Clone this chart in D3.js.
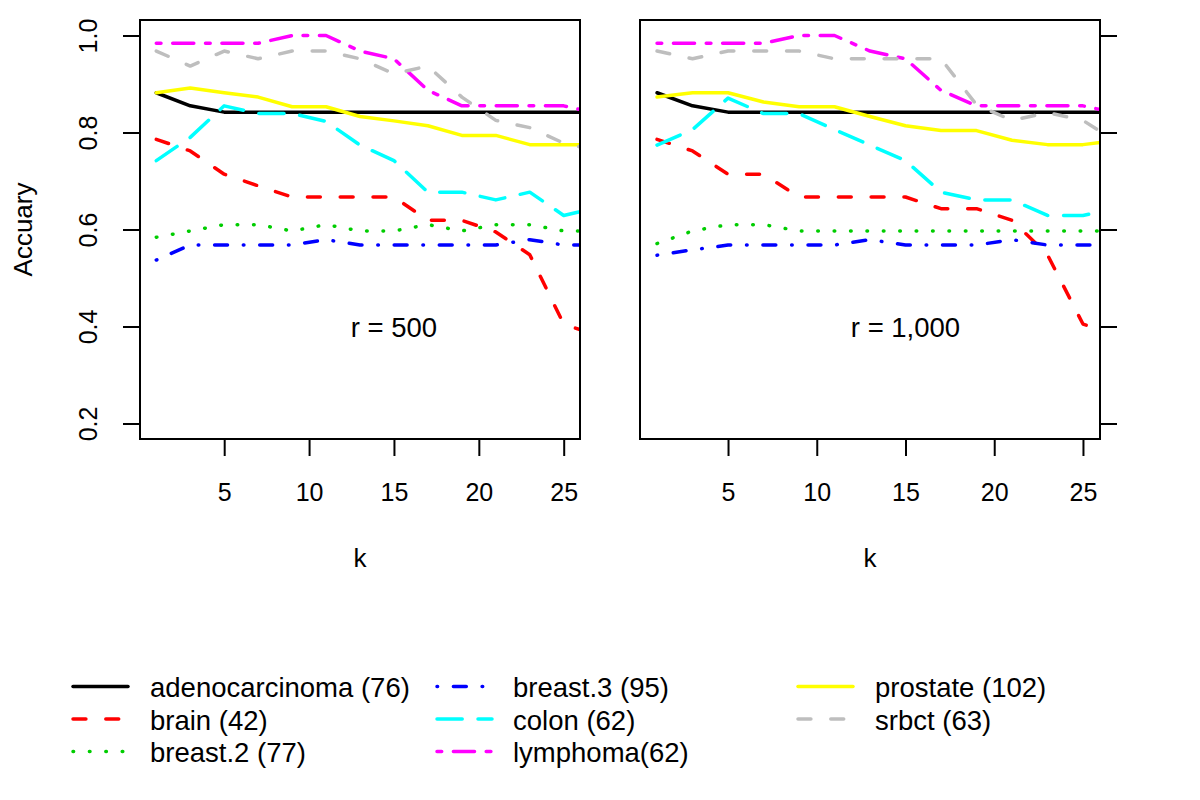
<!DOCTYPE html>
<html><head><meta charset="utf-8">
<script src="https://cdn.jsdelivr.net/npm/d3@7"></script>
<style>
body{margin:0;background:#fff}
svg{display:block}
text{font-family:"Liberation Sans",Arial,Helvetica,sans-serif;fill:#000}
</style>
</head><body>
<svg id="chart" width="1200" height="800"></svg>
<script>
// ---------- data ----------
const kValues = [1, 3, 5, 7, 9, 11, 13, 15, 17, 19, 21, 23, 25, 27];
const seriesNames = ["adenocarcinoma", "brain", "breast.2", "breast.3", "colon", "lymphoma", "prostate", "srbct"];
const legendLabels = ["adenocarcinoma (76)", "brain (42)", "breast.2 (77)", "breast.3 (95)", "colon (62)", "lymphoma(62)", "prostate (102)", "srbct (63)"];
const seriesColors = ["#000000", "#FF0000", "#00CD00", "#0000FF", "#00FFFF", "#FF00FF", "#FFFF00", "#BEBEBE"];
const seriesLty = ["solid", "dashed", "dotted", "dotdash", "longdash", "twodash", "solid", "dashed"];

// r = 500
const r500_adenocarcinoma = [0.882, 0.855, 0.842, 0.842, 0.842, 0.842, 0.842, 0.842, 0.842, 0.842, 0.842, 0.842, 0.842, 0.842];
const r500_brain          = [0.786, 0.762, 0.714, 0.690, 0.667, 0.667, 0.667, 0.667, 0.619, 0.619, 0.595, 0.548, 0.405, 0.381];
const r500_breast2        = [0.584, 0.597, 0.610, 0.610, 0.597, 0.610, 0.597, 0.597, 0.610, 0.597, 0.610, 0.610, 0.597, 0.597];
const r500_breast3        = [0.537, 0.568, 0.568, 0.568, 0.568, 0.579, 0.568, 0.568, 0.568, 0.568, 0.568, 0.579, 0.568, 0.568];
const r500_colon          = [0.742, 0.790, 0.855, 0.839, 0.839, 0.823, 0.774, 0.742, 0.677, 0.677, 0.661, 0.677, 0.629, 0.645];
const r500_lymphoma       = [0.984, 0.984, 0.984, 0.984, 1.000, 1.000, 0.968, 0.952, 0.887, 0.855, 0.855, 0.855, 0.855, 0.839];
const r500_prostate       = [0.882, 0.892, 0.882, 0.873, 0.853, 0.853, 0.833, 0.824, 0.814, 0.794, 0.794, 0.775, 0.775, 0.775];
const r500_srbct          = [0.968, 0.937, 0.968, 0.952, 0.968, 0.968, 0.952, 0.921, 0.937, 0.873, 0.825, 0.810, 0.778, 0.762];

// r = 1,000
const r1000_adenocarcinoma = [0.882, 0.855, 0.842, 0.842, 0.842, 0.842, 0.842, 0.842, 0.842, 0.842, 0.842, 0.842, 0.842, 0.842];
const r1000_brain          = [0.786, 0.762, 0.714, 0.714, 0.667, 0.667, 0.667, 0.667, 0.643, 0.643, 0.619, 0.548, 0.405, 0.381];
const r1000_breast2        = [0.571, 0.597, 0.610, 0.610, 0.597, 0.597, 0.597, 0.597, 0.597, 0.597, 0.597, 0.597, 0.597, 0.597];
const r1000_breast3        = [0.547, 0.558, 0.568, 0.568, 0.568, 0.568, 0.579, 0.568, 0.568, 0.568, 0.579, 0.568, 0.568, 0.568];
const r1000_colon          = [0.774, 0.806, 0.871, 0.839, 0.839, 0.806, 0.774, 0.742, 0.677, 0.661, 0.661, 0.629, 0.629, 0.645];
const r1000_lymphoma       = [0.984, 0.984, 0.984, 0.984, 1.000, 1.000, 0.968, 0.952, 0.887, 0.855, 0.855, 0.855, 0.855, 0.839];
const r1000_prostate       = [0.873, 0.882, 0.882, 0.863, 0.853, 0.853, 0.833, 0.814, 0.804, 0.804, 0.784, 0.775, 0.775, 0.784];
const r1000_srbct          = [0.968, 0.952, 0.968, 0.968, 0.968, 0.952, 0.952, 0.952, 0.952, 0.857, 0.825, 0.841, 0.825, 0.778];

const xTicks = [5, 10, 15, 20, 25];
const yTicks = [0.2, 0.4, 0.6, 0.8, 1.0];
const yTickLabels = ["0.2", "0.4", "0.6", "0.8", "1.0"];
const panelLabels = ["r = 500", "r = 1,000"];
const xTitle = "k";
const yTitle = "Accuary";

// ---------- layout / style ----------
const svg = d3.select("#chart");
const LW = 3.5, U = 4.1;
function dashFor(lty) {
  const on = n => Math.max(0.4, n * U - LW), off = n => n * U + LW;
  switch (lty) {
    case "dashed": return [on(4), off(4)].join(",");
    case "dotted": return [on(1), off(3)].join(",");
    case "dotdash": return [on(1), off(3), on(4), off(3)].join(",");
    case "longdash": return [on(7), off(3)].join(",");
    case "twodash": return [on(2), off(2), on(6), off(2)].join(",");
    default: return null;
  }
}

const panels = [
  { left: 140, right: 580, yAxisSide: "left", label: panelLabels[0],
    series: [r500_adenocarcinoma, r500_brain, r500_breast2, r500_breast3, r500_colon, r500_lymphoma, r500_prostate, r500_srbct] },
  { left: 640, right: 1100, yAxisSide: "right", label: panelLabels[1],
    series: [r1000_adenocarcinoma, r1000_brain, r1000_breast2, r1000_breast3, r1000_colon, r1000_lymphoma, r1000_prostate, r1000_srbct] }
];
const plotTop = 20, plotBottom = 439;

// R-style 4% expansion
function expand(lo, hi) { const d = (hi - lo) * 0.04; return [lo - d, hi + d]; }

panels.forEach((p, pi) => {
  const x = d3.scaleLinear().domain(expand(1, 25)).range([p.left, p.right]);
  const y = d3.scaleLinear().domain(expand(0.2, 1.0)).range([plotBottom, plotTop]);

  const clipId = "clip" + pi;
  svg.append("clipPath").attr("id", clipId).append("rect")
    .attr("x", p.left).attr("y", plotTop).attr("width", p.right - p.left).attr("height", plotBottom - plotTop);

  const line = d3.line().x((d, i) => x(kValues[i])).y(d => y(d));
  const g = svg.append("g").attr("clip-path", `url(#${clipId})`);
  p.series.forEach((vals, si) => {
    g.append("path").datum(vals)
      .attr("d", line)
      .attr("fill", "none")
      .attr("stroke", seriesColors[si])
      .attr("stroke-width", LW)
      .attr("stroke-linecap", "round")
      .attr("stroke-linejoin", "round")
      .attr("stroke-dasharray", dashFor(seriesLty[si]));
  });

  // box
  svg.append("rect").attr("x", p.left).attr("y", plotTop)
    .attr("width", p.right - p.left).attr("height", plotBottom - plotTop)
    .attr("fill", "none").attr("stroke", "#000").attr("stroke-width", 2);

  // x axis
  const xa = svg.append("g").attr("transform", `translate(0,${plotBottom})`)
    .call(d3.axisBottom(x).tickValues(xTicks).tickSize(17).tickFormat(d3.format("d")));
  xa.select(".domain").remove();
  xa.selectAll(".tick line").attr("stroke", "#000").attr("stroke-width", 2);
  xa.selectAll(".tick text").attr("y", 62).attr("dy", null)
    .attr("font-size", 25).attr("fill", "#000")
    .style("font-family", '"Liberation Sans",Arial,sans-serif');

  // y axis
  if (p.yAxisSide === "left") {
    const ya = svg.append("g").attr("transform", `translate(${p.left},0)`)
      .call(d3.axisLeft(y).tickValues(yTicks).tickSize(17).tickFormat((d, i) => yTickLabels[i]));
    ya.select(".domain").remove();
    ya.selectAll(".tick line").attr("stroke", "#000").attr("stroke-width", 2);
    ya.selectAll(".tick text").attr("x", null).attr("dy", null)
      .attr("text-anchor", "middle")
      .attr("transform", "translate(-43,0) rotate(-90)")
      .attr("font-size", 25).attr("fill", "#000")
      .style("font-family", '"Liberation Sans",Arial,sans-serif');
    svg.append("text").attr("transform", `translate(32,${(plotTop + plotBottom) / 2}) rotate(-90)`)
      .attr("text-anchor", "middle").attr("font-size", 26).text(yTitle);
  } else {
    const ya = svg.append("g").attr("transform", `translate(${p.right},0)`)
      .call(d3.axisRight(y).tickValues(yTicks).tickSize(17).tickFormat(""));
    ya.select(".domain").remove();
    ya.selectAll(".tick line").attr("stroke", "#000").attr("stroke-width", 2);
  }

  // x title
  svg.append("text").attr("x", (p.left + p.right) / 2).attr("y", 567)
    .attr("text-anchor", "middle").attr("font-size", 26).text(xTitle);

  // panel annotation
  svg.append("text").attr("x", x(15)).attr("y", y(0.4)).attr("dy", "0.37em")
    .attr("text-anchor", "middle").attr("font-size", 27.5).text(p.label);
});

// ---------- legend ----------
const legCols = [{ lx: 73, tx: 150 }, { lx: 437, tx: 513 }, { lx: 798, tx: 875 }];
const legRowY = [686.5, 719, 751.5];
const lg = svg.append("g");
legendLabels.forEach((lab, i) => {
  const c = legCols[Math.floor(i / 3)], ry = legRowY[i % 3];
  lg.append("line").attr("x1", c.lx).attr("x2", c.lx + 55).attr("y1", ry).attr("y2", ry)
    .attr("stroke", seriesColors[i]).attr("stroke-width", LW)
    .attr("stroke-linecap", "round")
    .attr("stroke-dasharray", dashFor(seriesLty[i]));
  lg.append("text").attr("x", c.tx).attr("y", ry + 10.5)
    .attr("font-size", 27.5).text(lab);
});
</script>
</body></html>
